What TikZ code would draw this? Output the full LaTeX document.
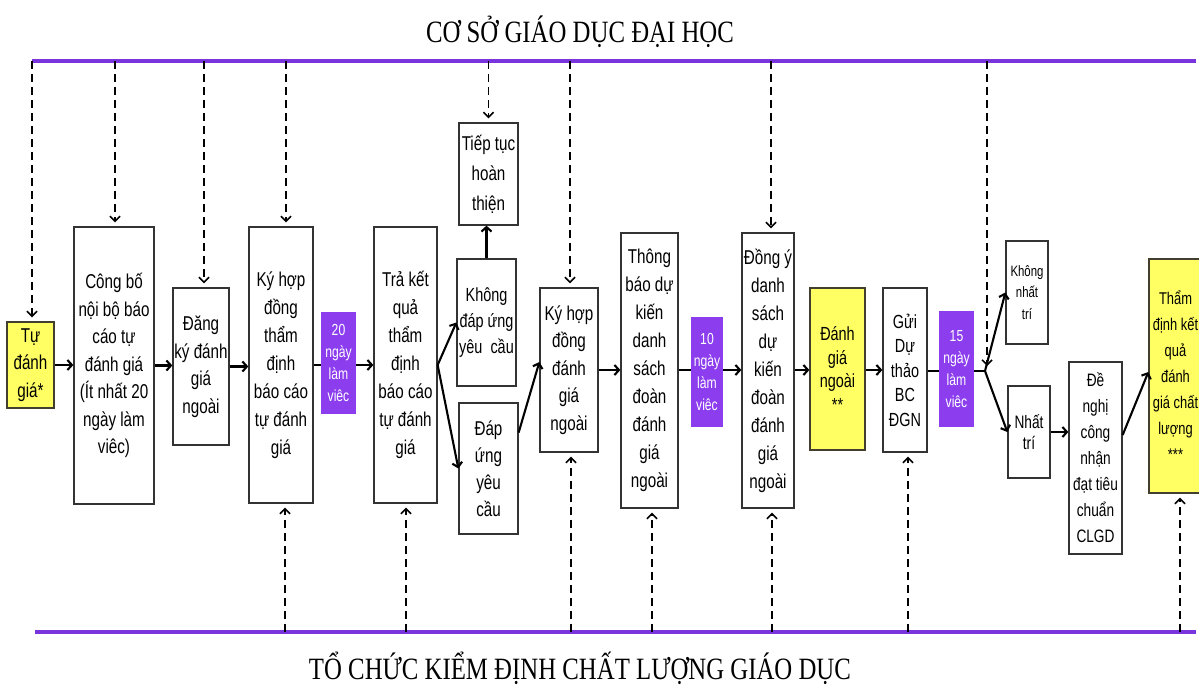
\documentclass[tikz,border=0pt]{standalone}
\usepackage{fontspec}
\setmainfont{Liberation Sans}[FakeStretch=0.76]
\newfontfamily\titlefont{Liberation Serif}[FakeStretch=0.8]
\usetikzlibrary{arrows.meta,calc}
\newcommand\fsz[2]{\fontsize{#1}{#2}\selectfont}
\definecolor{plinec}{RGB}{122,52,222}
\definecolor{pboxc}{RGB}{140,62,238}
\definecolor{ybox}{RGB}{255,255,100}
\begin{document}
\begin{tikzpicture}[x=1pt,y=-1pt,
  box/.style={draw=black!80, line width=1.3pt, fill=white, inner sep=0pt, align=center, font=\fsz{20}{27.5}},
  ybx/.style={box, fill=ybox, draw=black!70!olive},
  pbx/.style={fill=pboxc, draw=none, inner sep=0pt, align=center, text=white, font=\fsz{16}{22}},
  arr/.style={line width=2.1pt, -{Straight Barb[length=4.5pt,width=10pt]}},
  pl/.style={line width=2.1pt},
  darr/.style={line width=1.6pt, dash pattern=on 8pt off 5pt, -{Straight Barb[length=5pt,width=10pt]}, shorten >=4pt},
  pline/.style={line width=4.5pt, plinec},
  ttl/.style={font=\titlefont\fsz{31}{31}}
]
\useasboundingbox (0,0) rectangle (1199,688);

% titles
\node[ttl] (title1) at (580,32) {CƠ SỞ GIÁO DỤC ĐẠI HỌC};
\node[ttl] (title2) at (580,668) {TỔ CHỨC KIỂM ĐỊNH CHẤT LƯỢNG GIÁO DỤC};
\coordinate (tl1) at (32,61);
\coordinate (tl2) at (1196,61);
\coordinate (bl1) at (35,632);
\coordinate (bl2) at (1196,632);

% boxes
\node[ybx, minimum width=47, minimum height=86] (tu) at (30.5,365) {Tự\\đánh\\giá*};
\node[box, minimum width=80, minimum height=277] (congbo) at (114,365.5) {Công bố\\nội bộ báo\\cáo tự\\đánh giá\\(Ít nhất 20\\ngày làm\\viêc)};
\node[box, minimum width=56, minimum height=157] (dangky) at (201,366.5) {Đăng\\ký đánh\\giá\\ngoài};
\node[box, minimum width=64, minimum height=276, font=\fsz{20}{28}] (kyhd) at (281,365) {Ký hợp\\đồng\\thẩm\\định\\báo cáo\\tự đánh\\giá};
\node[pbx, minimum width=35, minimum height=102] (p20) at (338.5,363) {20\\ngày\\làm\\viêc};
\node[box, minimum width=63, minimum height=276, font=\fsz{20}{28}] (tra) at (405.5,365) {Trả kết\\quả\\thẩm\\định\\báo cáo\\tự đánh\\giá};
\node[box, minimum width=59, minimum height=102, font=\fsz{20}{30}] (tieptuc) at (488.5,174) {Tiếp tục\\hoàn\\thiện};
\node[box, minimum width=59, minimum height=127, font=\fsz{19}{26}] (khong) at (486.5,322.5) {Không\\đáp ứng\\yêu~ cầu};
\node[box, minimum width=59, minimum height=131, font=\fsz{20}{27}] (dapung) at (488.5,468.5) {Đáp\\ứng\\yêu\\cầu};
\node[box, minimum width=58, minimum height=164] (kydgn) at (569,370) {Ký hợp\\đồng\\đánh\\giá\\ngoài};
\node[box, minimum width=57, minimum height=275, font=\fsz{20}{28}] (thongbao) at (649.5,370.5) {Thông\\báo dự\\kiến\\danh\\sách\\đoàn\\đánh\\giá\\ngoài};
\node[pbx, minimum width=32, minimum height=110] (p10) at (707,372) {10\\ngày\\làm\\viêc};
\node[box, minimum width=52, minimum height=275, font=\fsz{20}{28}] (dongy) at (768,370.5) {Đồng ý\\danh\\sách\\dự\\kiến\\đoàn\\đánh\\giá\\ngoài};
\node[ybx, minimum width=55, minimum height=162, font=\fsz{19}{23.5}] (dgn) at (837.5,369) {Đánh\\giá\\ngoài\\**};
\node[box, minimum width=44, minimum height=164, font=\fsz{19}{24.5}] (gui) at (905,370) {Gửi\\Dự\\thảo\\BC\\ĐGN};
\node[pbx, minimum width=35, minimum height=116] (p15) at (956.5,369) {15\\ngày\\làm\\viêc};
\coordinate (jn) at (985,371);
\node[box, minimum width=42, minimum height=103, font=\fsz{15}{21.5}] (knt) at (1027,292.5) {Không\\nhất\\trí};
\node[box, minimum width=42, minimum height=92, font=\fsz{18}{21}] (nt) at (1029,432) {Nhất\\trí};
\node[box, minimum width=53, minimum height=192, font=\fsz{18}{26}] (denghi) at (1095.5,458) {Đề\\nghị\\công\\nhận\\đạt tiêu\\chuẩn\\CLGD};
\node[ybx, minimum width=53, minimum height=234, font=\fsz{17}{26}] (thamdinh) at (1175.5,376) {Thẩm\\định kết\\quả\\đánh\\giá chất\\lượng\\***};

% purple lines
\draw[pline] (tl1) -- (tl2);
\draw[pline] (bl1) -- (bl2);

% main chain connectors
\draw[arr] (tu.east) -- (tu.east -| congbo.west);
\draw[arr] (congbo.east) -- (congbo.east -| dangky.west);
\draw[arr] (dangky.east) -- (dangky.east -| kyhd.west);
\draw[pl] (kyhd.east) -- (kyhd.east -| p20.west);
\draw[arr] (p20.east |- kyhd.east) -- (kyhd.east -| tra.west);
\draw[arr] (tra.east) -- (khong.west);
\draw[arr] (tra.east) -- (dapung.west);
\draw[arr] (khong.north) -- (khong.north |- tieptuc.south);
\draw[arr] ($(dapung.east)+(0,-36)$) -- ($(kydgn.west)+(0,-8)$);
\draw[arr] (kydgn.east) -- (kydgn.east -| thongbao.west);
\draw[pl] (thongbao.east |- kydgn.east) -- (kydgn.east -| p10.west);
\draw[arr] (p10.east |- kydgn.east) -- (kydgn.east -| dongy.west);
\draw[arr] (dongy.east |- kydgn.east) -- (kydgn.east -| dgn.west);
\draw[arr] (dgn.east |- kydgn.east) -- (kydgn.east -| gui.west);
\draw[pl] (gui.east |- jn) -- (p15.west |- jn);
\draw[pl] (p15.east |- jn) -- (jn);
\draw[arr] (jn) -- (knt.west);
\draw[arr] (jn) -- (nt.west);
\draw[arr] (nt.east) -- (nt.east -| denghi.west);
\draw[arr] ($(denghi.east)+(0,-23)$) -- ($(thamdinh.west)+(0,-4)$);

% top dashed arrows
\coordinate (ta) at (32,61);
\coordinate (tb) at (115,61);
\coordinate (tc) at (204,61);
\coordinate (td) at (286,61);
\coordinate (te) at (488.5,61);
\coordinate (tf) at (570,61);
\coordinate (tg) at (771,61);
\coordinate (th) at (987,61);
\draw[darr] (ta) -- (ta |- tu.north);
\draw[darr] (tb) -- (tb |- congbo.north);
\draw[darr] (tc) -- (tc |- dangky.north);
\draw[darr] (td) -- (td |- kyhd.north);
\draw[darr] (te) -- (te |- tieptuc.north);
\draw[darr] (tf) -- (tf |- kydgn.north);
\draw[darr] (tg) -- (tg |- dongy.north);
\draw[darr, shorten >=5pt] (th) -- (th |- jn);

% bottom dashed arrows
\coordinate (ba) at (285,632);
\coordinate (bb) at (406,632);
\coordinate (bc) at (571,632);
\coordinate (bd) at (652,632);
\coordinate (be) at (772,632);
\coordinate (bf) at (908,632);
\coordinate (bg) at (1180,632);
\draw[darr] (ba) -- (ba |- kyhd.south);
\draw[darr] (bb) -- (bb |- tra.south);
\draw[darr] (bc) -- (bc |- kydgn.south);
\draw[darr] (bd) -- (bd |- thongbao.south);
\draw[darr] (be) -- (be |- dongy.south);
\draw[darr] (bf) -- (bf |- gui.south);
\draw[darr] (bg) -- (bg |- thamdinh.south);
\end{tikzpicture}
\end{document}
